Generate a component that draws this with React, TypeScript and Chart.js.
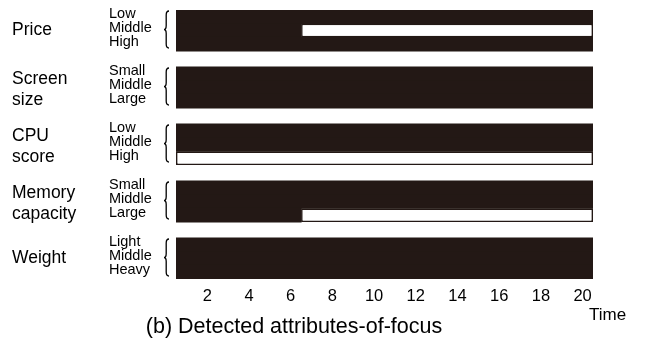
import React, { useEffect, useRef } from "react";
import { Chart, registerables } from "chart.js";

Chart.register(...registerables);

const ATTRIBUTE_LINES: string[][] = [["Price"], ["Screen", "size"], ["CPU", "score"], ["Memory", "capacity"], ["Weight"]];
const LEVELS: string[][] = [
  ["Low", "Middle", "High"],
  ["Small", "Middle", "Large"],
  ["Low", "Middle", "High"],
  ["Small", "Middle", "Large"],
  ["Light", "Middle", "Heavy"],
];
const TIME = [1, 2, 3, 4, 5, 6, 7, 8, 9, 10, 11, 12, 13, 14, 15, 16, 17, 18, 19, 20];
const TIME_TICKS = [2, 4, 6, 8, 10, 12, 14, 16, 18, 20];

// 1 = detected as attribute-of-focus (white), 0 = not detected (dark)
const PRICE_FOCUS = [
  [0, 0, 0, 0, 0, 0, 0, 0, 0, 0, 0, 0, 0, 0, 0, 0, 0, 0, 0, 0],
  [0, 0, 0, 0, 0, 0, 1, 1, 1, 1, 1, 1, 1, 1, 1, 1, 1, 1, 1, 1],
  [0, 0, 0, 0, 0, 0, 0, 0, 0, 0, 0, 0, 0, 0, 0, 0, 0, 0, 0, 0],
];
const SCREEN_FOCUS = [
  [0, 0, 0, 0, 0, 0, 0, 0, 0, 0, 0, 0, 0, 0, 0, 0, 0, 0, 0, 0],
  [0, 0, 0, 0, 0, 0, 0, 0, 0, 0, 0, 0, 0, 0, 0, 0, 0, 0, 0, 0],
  [0, 0, 0, 0, 0, 0, 0, 0, 0, 0, 0, 0, 0, 0, 0, 0, 0, 0, 0, 0],
];
const CPU_FOCUS = [
  [0, 0, 0, 0, 0, 0, 0, 0, 0, 0, 0, 0, 0, 0, 0, 0, 0, 0, 0, 0],
  [0, 0, 0, 0, 0, 0, 0, 0, 0, 0, 0, 0, 0, 0, 0, 0, 0, 0, 0, 0],
  [1, 1, 1, 1, 1, 1, 1, 1, 1, 1, 1, 1, 1, 1, 1, 1, 1, 1, 1, 1],
];
const MEMORY_FOCUS = [
  [0, 0, 0, 0, 0, 0, 0, 0, 0, 0, 0, 0, 0, 0, 0, 0, 0, 0, 0, 0],
  [0, 0, 0, 0, 0, 0, 0, 0, 0, 0, 0, 0, 0, 0, 0, 0, 0, 0, 0, 0],
  [0, 0, 0, 0, 0, 0, 1, 1, 1, 1, 1, 1, 1, 1, 1, 1, 1, 1, 1, 1],
];
const WEIGHT_FOCUS = [
  [0, 0, 0, 0, 0, 0, 0, 0, 0, 0, 0, 0, 0, 0, 0, 0, 0, 0, 0, 0],
  [0, 0, 0, 0, 0, 0, 0, 0, 0, 0, 0, 0, 0, 0, 0, 0, 0, 0, 0, 0],
  [0, 0, 0, 0, 0, 0, 0, 0, 0, 0, 0, 0, 0, 0, 0, 0, 0, 0, 0, 0],
];
const FOCUS = [PRICE_FOCUS, SCREEN_FOCUS, CPU_FOCUS, MEMORY_FOCUS, WEIGHT_FOCUS];

const X_TITLE = "Time";
const CAPTION = "(b) Detected attributes-of-focus";

const DARK = "#231815";
const GAP = 1.17;
const FONT = '"Liberation Sans", Arial, Helvetica, sans-serif';
const PANELS = FOCUS.length;
const Y_MAX = PANELS * 3 + (PANELS - 1) * GAP;

function rowValue(p: number, r: number) {
  return p * (3 + GAP) + r + 0.5;
}

function runsOf(series: number[], flag: number): [number, number][] {
  const out: [number, number][] = [];
  let start: number | null = null;
  for (let i = 0; i < series.length; i++) {
    if (series[i] === flag && start === null) start = i;
    if (start !== null && (i === series.length - 1 || series[i + 1] !== flag)) {
      out.push([TIME[start] - 0.5, TIME[i] + 0.5]);
      start = null;
    }
  }
  return out;
}

function buildBars(flag: number) {
  const data: { x: [number, number]; y: number }[] = [];
  FOCUS.forEach((panel, p) => {
    panel.forEach((series, r) => {
      runsOf(series, flag).forEach((run) => data.push({ x: run, y: rowValue(p, r) }));
    });
  });
  return data;
}

const ROW_VALUES: number[] = [];
const ROW_LABELS: string[] = [];
LEVELS.forEach((lv, p) => lv.forEach((l, r) => { ROW_VALUES.push(rowValue(p, r)); ROW_LABELS.push(l); }));

const decorPlugin = {
  id: "decor",
  afterDraw(chart: any) {
    const ctx = chart.ctx;
    const y = chart.scales.y;
    ctx.save();
    ctx.fillStyle = "#000";
    ctx.strokeStyle = "#000";
    ctx.textBaseline = "middle";
    ATTRIBUTE_LINES.forEach((lines, p) => {
      const top = y.getPixelForValue(p * (3 + GAP));
      const bottom = y.getPixelForValue(p * (3 + GAP) + 3);
      const center = (top + bottom) / 2;
      ctx.font = `17.5px ${FONT}`;
      ctx.textAlign = "left";
      if (lines.length === 1) {
        ctx.fillText(lines[0], 12, center);
      } else {
        ctx.fillText(lines[0], 12, center - 8.5);
        ctx.fillText(lines[1], 12, center + 12.5);
      }
      // brace
      const bx = 164;
      const t = top + 1;
      const b = bottom - 3;
      const m = (t + b) / 2;
      ctx.lineWidth = 1.3;
      ctx.beginPath();
      ctx.moveTo(bx + 5, t);
      ctx.quadraticCurveTo(bx + 2.2, t, bx + 2.2, t + 4);
      ctx.lineTo(bx + 2.2, m - 4);
      ctx.quadraticCurveTo(bx + 2.2, m, bx, m);
      ctx.quadraticCurveTo(bx + 2.2, m, bx + 2.2, m + 4);
      ctx.lineTo(bx + 2.2, b - 4);
      ctx.quadraticCurveTo(bx + 2.2, b, bx + 5, b);
      ctx.stroke();
    });
    ctx.font = `17px ${FONT}`;
    ctx.textAlign = "left";
    ctx.fillText(X_TITLE, 589, 315);
    ctx.font = `21.5px ${FONT}`;
    ctx.textAlign = "center";
    ctx.fillText(CAPTION, 294, 327);
    ctx.restore();
  },
};

export default function App() {
  const ref = useRef<HTMLCanvasElement | null>(null);
  useEffect(() => {
    if (!ref.current) return;
    const chart = new Chart(ref.current, {
      type: "bar",
      data: {
        datasets: [
          {
            data: buildBars(0) as any,
            backgroundColor: DARK,
            borderWidth: 0,
            grouped: false,
            barPercentage: 1,
            categoryPercentage: 1,
            inflateAmount: 0.5,
          } as any,
          {
            data: buildBars(1) as any,
            backgroundColor: "#ffffff",
            borderColor: DARK,
            borderWidth: 1.6,
            borderSkipped: false,
            grouped: false,
            barPercentage: 1,
            categoryPercentage: 1,
            inflateAmount: 0,
          } as any,
        ],
      },
      options: {
        indexAxis: "y",
        animation: false,
        responsive: false,
        devicePixelRatio: 1,
        layout: { padding: { left: 109, top: 10, right: 52, bottom: 0 } },
        plugins: { legend: { display: false }, tooltip: { enabled: false } },
        scales: {
          x: {
            type: "linear",
            position: "bottom",
            min: 0.5,
            max: 20.5,
            offset: false,
            grid: { display: false, drawTicks: false },
            border: { display: false },
            afterBuildTicks: (s: any) => { s.ticks = TIME_TICKS.map((v) => ({ value: v })); },
            afterFit: (s: any) => { s.height = 59; s.paddingLeft = 0; s.paddingRight = 0; },
            ticks: {
              autoSkip: false,
              maxRotation: 0,
              padding: 8,
              color: "#000",
              font: { family: FONT, size: 16.5 },
              callback: (v: any) => String(v),
            },
          },
          y: {
            type: "linear",
            position: "left",
            min: 0,
            max: Y_MAX,
            reverse: true,
            offset: false,
            bounds: "data",
            grid: { display: false, drawTicks: false, offset: false },
            border: { display: false },
            afterBuildTicks: (s: any) => { s.ticks = ROW_VALUES.map((v) => ({ value: v })); },
            afterFit: (s: any) => { s.width = 67; s.paddingTop = 0; s.paddingBottom = 0; },
            ticks: {
              autoSkip: false,
              crossAlign: "far",
              padding: 0,
              labelOffset: -2.5,
              color: "#000",
              font: { family: FONT, size: 14.5 },
              callback: (_v: any, i: number) => ROW_LABELS[i],
            },
          },
        } as any,
      },
      plugins: [decorPlugin],
    });
    return () => chart.destroy();
  }, []);
  return (
    <div style={{ position: "absolute", left: 0, top: 0, width: 645, height: 338, background: "#fff" }}>
      <canvas ref={ref} width={645} height={338} />
    </div>
  );
}
